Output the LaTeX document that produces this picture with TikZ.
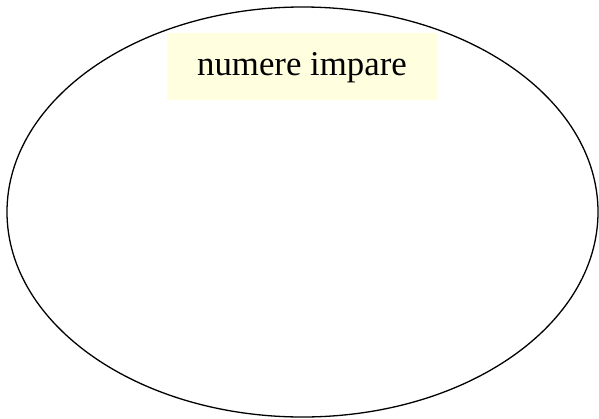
\documentclass[tikz,border=0pt]{standalone}
\usepackage{fontspec}
\setmainfont{Liberation Serif}
\definecolor{lightyel}{HTML}{FFFFE0}
\begin{document}
\begin{tikzpicture}[x=1pt,y=-1pt,
  setline/.style={draw=black,line width=1.3pt},
  labelbox/.style={fill=lightyel,inner sep=0pt}]
\useasboundingbox (0,0) rectangle (599,418);
\draw[setline] (302.5,212) ellipse [x radius=295.5, y radius=205];
\node[labelbox,minimum width=270pt,minimum height=67pt] (box) at (302,66.5) {};
\node[anchor=base,font=\fontsize{34.8}{40}\selectfont,inner sep=0pt] (lbl) at (302,75) {numere impare};
\end{tikzpicture}
\end{document}
